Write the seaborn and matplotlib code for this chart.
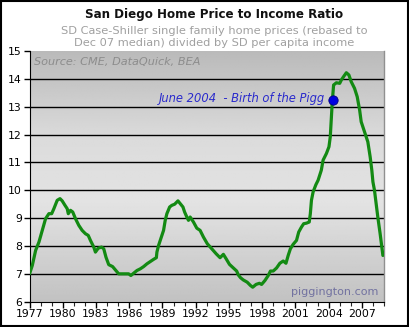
import matplotlib
matplotlib.use('Agg')
import matplotlib.pyplot as plt
import numpy as np
import pandas as pd
import seaborn as sns
from matplotlib.patches import Rectangle
from matplotlib.ticker import MultipleLocator

# ratio data (year fraction, price/income ratio)
years = [1977.0, 1977.25, 1977.55, 1977.85, 1978.15, 1978.45, 1978.75, 1979.0, 1979.2, 1979.5,
         1979.75, 1979.95, 1980.2, 1980.4, 1980.5, 1980.7, 1980.9, 1981.15, 1981.45, 1981.75,
         1982.05, 1982.3, 1982.5, 1982.8, 1982.95, 1983.2, 1983.5, 1983.7, 1983.9, 1984.15,
         1984.5, 1984.75, 1985.05, 1985.5, 1985.95, 1986.15, 1986.4, 1986.7, 1987.0, 1987.3,
         1987.6, 1987.9, 1988.2, 1988.45, 1988.5, 1988.65, 1988.95, 1989.1, 1989.25, 1989.4,
         1989.65, 1989.85, 1990.1, 1990.4, 1990.6, 1990.85, 1991.0, 1991.2, 1991.35, 1991.5,
         1991.8, 1992.1, 1992.4, 1992.7, 1993.05, 1993.45, 1993.85, 1994.2, 1994.5, 1994.75,
         1995.05, 1995.4, 1995.7, 1995.85, 1996.05, 1996.3, 1996.65, 1996.95, 1997.15, 1997.45,
         1997.75, 1997.95, 1998.25, 1998.55, 1998.75, 1999.0, 1999.3, 1999.6, 1999.9, 2000.15,
         2000.35, 2000.55, 2000.8, 2001.1, 2001.3, 2001.55, 2001.75, 2002.0, 2002.25, 2002.35,
         2002.45, 2002.6, 2002.85, 2003.05, 2003.34, 2003.5, 2003.8, 2004.03, 2004.15, 2004.24,
         2004.33, 2004.45, 2004.7, 2005.0, 2005.15, 2005.35, 2005.6, 2005.83, 2006.04, 2006.34,
         2006.58, 2006.8, 2006.94, 2007.24, 2007.54, 2007.75, 2007.9, 2008.0, 2008.14, 2008.44,
         2008.65, 2008.9]
ratio = [7.0, 7.3, 7.84, 8.14, 8.56, 8.98, 9.16, 9.16, 9.34, 9.64,
         9.7, 9.62, 9.46, 9.34, 9.16, 9.28, 9.22, 8.98, 8.74, 8.56,
         8.44, 8.38, 8.2, 7.96, 7.78, 7.92, 7.96, 7.9, 7.6, 7.33,
         7.26, 7.14, 7.0, 7.0, 7.0, 6.94, 7.02, 7.12, 7.18, 7.26,
         7.36, 7.44, 7.52, 7.58, 7.78, 8.02, 8.38, 8.56, 8.92, 9.16,
         9.4, 9.46, 9.5, 9.62, 9.52, 9.4, 9.22, 9.04, 8.92, 9.04,
         8.86, 8.64, 8.56, 8.32, 8.08, 7.9, 7.72, 7.58, 7.7, 7.54,
         7.34, 7.21, 7.1, 6.96, 6.86, 6.78, 6.7, 6.58, 6.52, 6.62,
         6.66, 6.62, 6.76, 6.94, 7.1, 7.1, 7.21, 7.38, 7.46, 7.38,
         7.66, 7.9, 8.06, 8.2, 8.5, 8.68, 8.8, 8.82, 8.86, 9.16,
         9.64, 9.94, 10.2, 10.36, 10.72, 11.08, 11.32, 11.56, 11.92, 12.52,
         13.18, 13.78, 13.86, 13.84, 13.96, 14.08, 14.22, 14.14, 13.9, 13.66,
         13.36, 12.88, 12.46, 12.1, 11.74, 11.2, 10.72, 10.3, 10.0, 9.04,
         8.44, 7.66]

# June 2004 marker
pigg_year = [2004.4]
pigg_ratio = [13.25]

xtick_years = [1977, 1980, 1983, 1986, 1989, 1992, 1995, 1998, 2001, 2004, 2007]
ytick_vals = [6, 7, 8, 9, 10, 11, 12, 13, 14, 15]

df = pd.DataFrame({'year': years, 'ratio': ratio})

sns.set_style('white')
plt.rcParams['font.family'] = ['DejaVu Sans']

fig = plt.figure(figsize=(4.1, 3.27), dpi=100)
fig.patch.set_facecolor('white')
ax = fig.add_axes([0.072, 0.0774, 0.8646, 0.7666])

# grey gradient background
stops = np.array([0.0, 0.35, 0.6, 1.0])
shade = np.array([0.73, 0.86, 0.89, 0.76])
pos = np.linspace(0, 1, 200)
grad = np.interp(pos, stops, shade)[:, None]
ax.imshow(np.repeat(grad, 2, axis=1), cmap='gray', vmin=0, vmax=1, aspect='auto',
          extent=[0, 1, 0, 1], transform=ax.transAxes, zorder=0, interpolation='bilinear')

for v in ytick_vals[1:-1]:
    ax.axhline(v, color='black', lw=1.0, zorder=1)

sns.lineplot(data=df, x='year', y='ratio', ax=ax, color='#138a13', lw=2.3, zorder=3, sort=False)
ax.scatter(pigg_year, pigg_ratio, s=45, color='#0000e0', edgecolor='#000080', lw=0.6, zorder=4)

ax.set_xlim(1977, 2009)
ax.set_ylim(6, 15)
ax.set_xticks(xtick_years)
ax.set_yticks(ytick_vals)
ax.xaxis.set_minor_locator(MultipleLocator(1))
ax.tick_params(axis='both', which='major', direction='out', length=4, width=1, labelsize=7.8,
               colors='black', pad=1.5)
ax.tick_params(axis='x', which='minor', direction='out', length=3, width=0.8, bottom=True)
ax.tick_params(axis='both', which='both', bottom=True, left=True)
ax.set_xlabel('')
ax.set_ylabel('')

ax.spines['top'].set_visible(False)
ax.spines['right'].set_color('#909090')
ax.spines['right'].set_linewidth(1.0)
ax.spines['left'].set_color('black')
ax.spines['bottom'].set_color('black')

ax.text(0.012, 0.975, 'Source: CME, DataQuick, BEA', transform=ax.transAxes, ha='left', va='top',
        fontsize=8.1, style='italic', color='#8c8c8c')
ax.text(2003.65, 13.3, 'June 2004  - Birth of the Pigg', ha='right', va='center',
        fontsize=8.3, style='italic', color='#2a2acc')
ax.text(0.985, 0.02, 'piggington.com', transform=ax.transAxes, ha='right', va='bottom',
        fontsize=8.0, color='#7272a0')

fig.text(0.522, 0.957, 'San Diego Home Price to Income Ratio', ha='center', va='center',
         fontsize=8.6, fontweight='bold', color='#111111')
fig.text(0.522, 0.887, 'SD Case-Shiller single family home prices (rebased to\nDec 07 median) divided by SD per capita income',
         ha='center', va='center', fontsize=8.2, color='#a0a0a0', linespacing=1.15)

# outer frame
fig.patches.append(Rectangle((0.003, 0.004), 0.993, 0.992, transform=fig.transFigure,
                             fill=False, edgecolor='black', lw=1.5))

fig.savefig('out.png', dpi=100)
